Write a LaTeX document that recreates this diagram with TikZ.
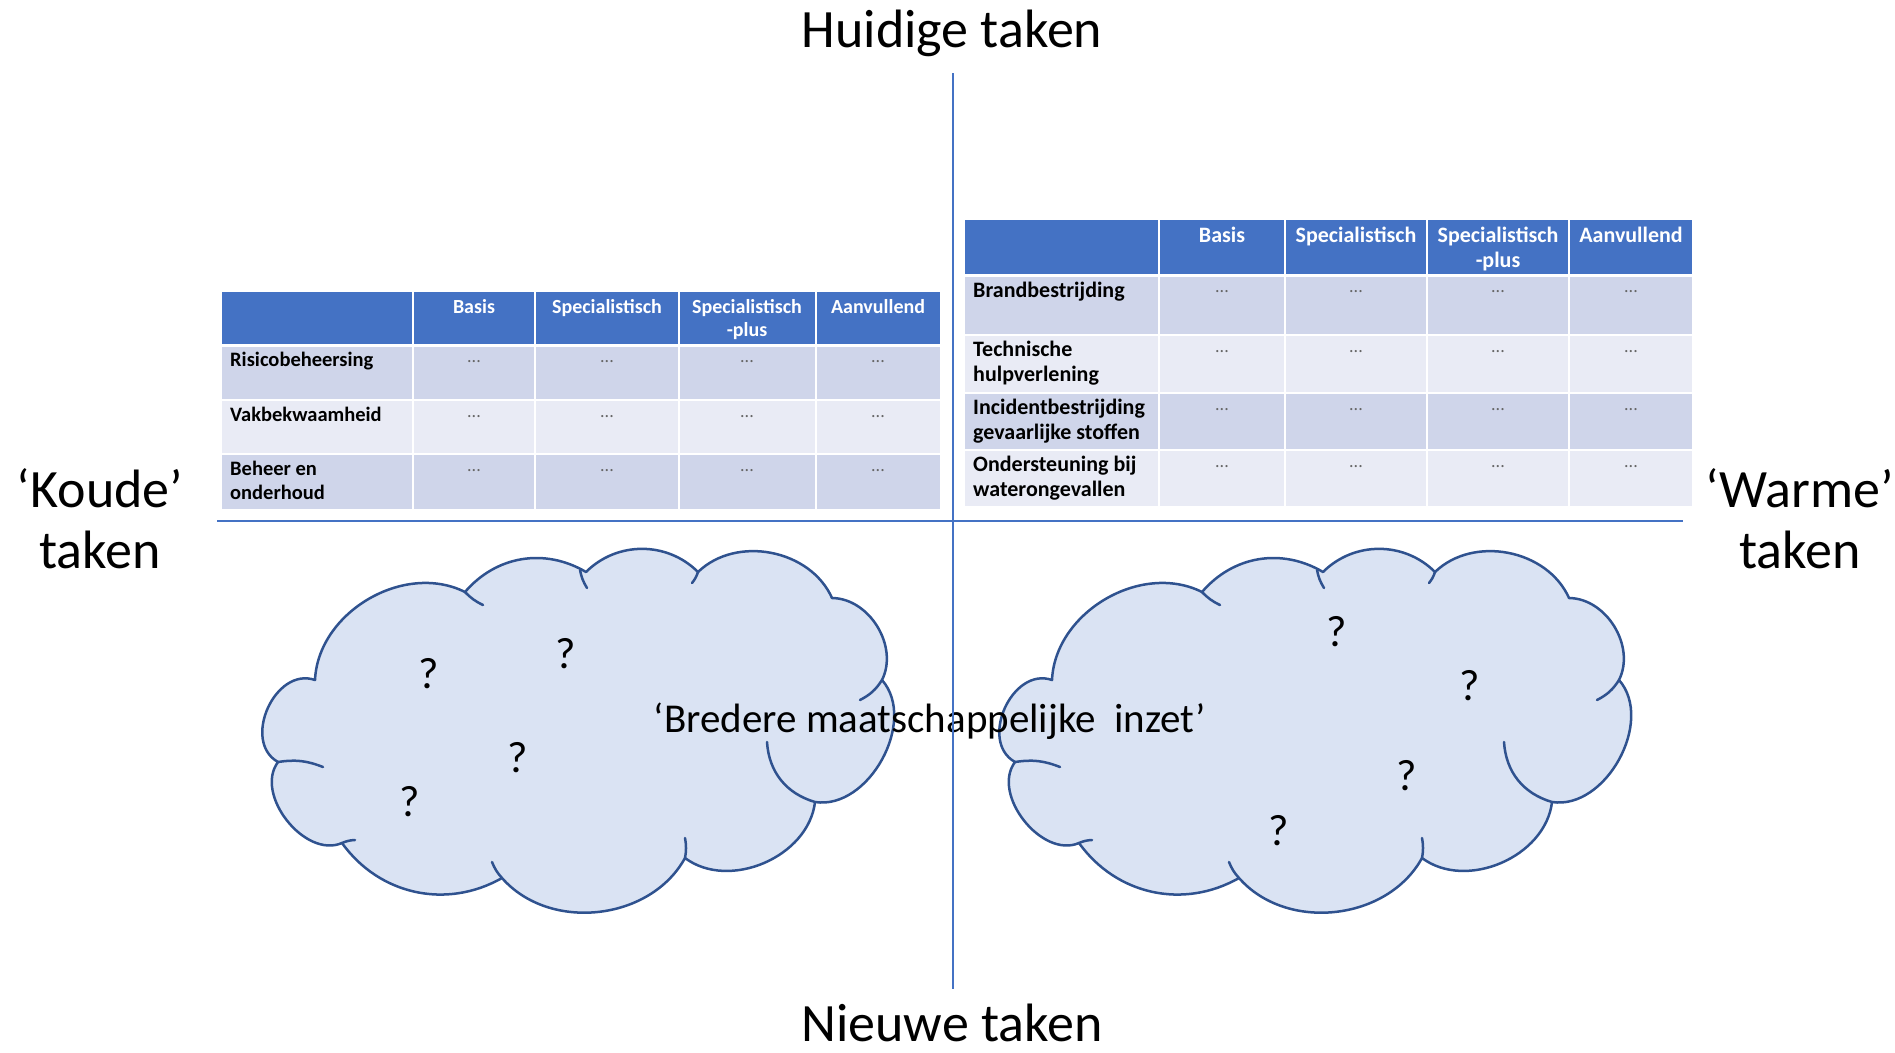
\documentclass[tikz,border=0pt]{standalone}
\usepackage{fontspec}
\setmainfont{Carlito}
\definecolor{kopblauw}{HTML}{4472C4}
\definecolor{rijdonker}{HTML}{CFD5EA}
\definecolor{rijlicht}{HTML}{E9EBF5}
\definecolor{wolkvul}{HTML}{DAE3F3}
\definecolor{wolkrand}{HTML}{2F528F}
\tikzset{
	as/.style={draw=kopblauw, line width=2.5pt},
	groot/.style={font=\fontsize{54}{61}\selectfont, align=center, inner sep=0pt},
	kop/.style={font=\bfseries\fontsize{20}{23.5}\selectfont, text=white, align=center, anchor=north, inner sep=0pt},
	rij/.style={font=\bfseries\fontsize{20.5}{23.5}\selectfont, align=left, anchor=north west, inner sep=0pt},
	kopR/.style={kop, font=\bfseries\fontsize{22}{24.5}\selectfont},
	rijR/.style={rij, font=\bfseries\fontsize{22}{24.5}\selectfont},
	punt/.style={font=\fontsize{18}{18}\selectfont, text=black!60, inner sep=0pt},
	wolk/.style={draw=wolkrand, fill=wolkvul, line width=2.5pt, line join=round},
	staart/.style={draw=wolkrand, line width=2.5pt, line cap=round},
	vraag/.style={font=\fontsize{44}{50}\selectfont, inner sep=0pt},
}
\begin{document}
\begin{tikzpicture}[x=1pt,y=-1pt]
	\useasboundingbox (0,0) rectangle (1895,1052);
	% tabel koude taken
	\foreach \xa/\xb in {221/413,413/535,535/679,679/816,816/941}{
		\fill[kopblauw] (\xa+1,292) rectangle (\xb-1,344);
		\fill[rijdonker] (\xa+1,347) rectangle (\xb-1,399);
		\fill[rijlicht] (\xa+1,401) rectangle (\xb-1,453);
		\fill[rijdonker] (\xa+1,455) rectangle (\xb-1,509);
	}
	\node[kop] (Lbasis) at (474,299) {Basis};
	\node[kop] (Lspec) at (607,299) {Specialistisch};
	\node[kop] (Lplus) at (747,299) {Specialistisch\\-plus};
	\node[kop] (Laanv) at (878,299) {Aanvullend};
	\node[rij] (Lrisico) at (230,352) {Risicobeheersing};
	\node[rij] (Lvak) at (230,407) {Vakbekwaamheid};
	\node[rij] (Lbeheer) at (230,461) {Beheer en\\onderhoud};
	\foreach \x in {474,607,747,878}
		\foreach \y in {362,417,471}
			\node[punt] at (\x,\y) {...};
	% tabel warme taken
	\foreach \xa/\xb in {964/1159,1159/1285,1285/1427,1427/1569,1569/1693}{
		\fill[kopblauw] (\xa+1,220) rectangle (\xb-1,274);
		\fill[rijdonker] (\xa+1,277) rectangle (\xb-1,334);
		\fill[rijlicht] (\xa+1,336) rectangle (\xb-1,392);
		\fill[rijdonker] (\xa+1,394) rectangle (\xb-1,449);
		\fill[rijlicht] (\xa+1,451) rectangle (\xb-1,506);
	}
	\node[kopR] (Rbasis) at (1222,227) {Basis};
	\node[kopR] (Rspec) at (1356,227) {Specialistisch};
	\node[kopR] (Rplus) at (1498,227) {Specialistisch\\-plus};
	\node[kopR] (Raanv) at (1631,227) {Aanvullend};
	\node[rijR] (Rbrand) at (973,282) {Brandbestrijding};
	\node[rijR] (Rtech) at (973,341) {Technische\\hulpverlening};
	\node[rijR] (Rincid) at (973,399) {Incidentbestrijding\\gevaarlijke stoffen};
	\node[rijR] (Rwater) at (973,456) {Ondersteuning bij\\waterongevallen};
	\foreach \x in {1222,1356,1498,1631}
		\foreach \y in {292,352,410,467}
			\node[punt] at (\x,\y) {...};
	% wolken
	\foreach \dx in {0,737}{
		\begin{scope}[xshift=\dx pt]
			\draw[wolk] (315,680) to[bend left=57] (465,592) to[bend left=40] (586,572)
				to[bend left=45] (698,572) to[bend left=55] (832,598) to[bend left=58] (882,680)
				to[bend left=70] (815,802) to[bend left=60] (685,858) to[bend left=55] (502,878)
				to[bend left=42] (342,843) to[bend left=75] (278,762)
				to[bend left=85, looseness=1.2] (315,680) -- cycle;
			\draw[staart] (278,762) to[bend left=15] (323,767);
			\draw[staart] (465,592) to[bend right=10] (483,605);
			\draw[staart] (580,570) to[bend right=10] (587,588);
			\draw[staart] (698,572) to[bend left=10] (692,583);
			\draw[staart] (882,680) to[bend left=15] (860,700);
			\draw[staart] (815,802) to[bend left=35] (767,742);
			\draw[staart] (685,858) to[bend right=10] (685,838);
			\draw[staart] (502,878) to[bend left=10] (492,862);
			\draw[staart] (342,843) to[bend left=10] (355,840);
		\end{scope}
	}
	\node[font=\fontsize{41}{48}\selectfont] (breder) at (930,721) {‘Bredere maatschappelijke\ \ inzet’};
	\node[vraag] (v1) at (429,674) {?};
	\node[vraag] (v2) at (566,654) {?};
	\node[vraag] (v3) at (518,758) {?};
	\node[vraag] (v4) at (410,802) {?};
	\node[vraag] (v5) at (1337,632) {?};
	\node[vraag] (v6) at (1470,686) {?};
	\node[vraag] (v7) at (1407,776) {?};
	\node[vraag] (v8) at (1279,831) {?};
	% assen
	\coordinate (boven) at (953,73);
	\coordinate (onder) at (953,989);
	\coordinate (links) at (217,521);
	\coordinate (rechts) at (1683,521);
	\draw[as] (boven) -- (onder);
	\draw[as] (links) -- (rechts);
	\node[groot] (huidig) at (952,33) {Huidige taken};
	\node[groot] (nieuw) at (952,1023) {Nieuwe taken};
	\node[groot] (koud) at (100,519) {‘Koude’\\taken};
	\node[groot] (warm) at (1800,519) {‘Warme’\\taken};
\end{tikzpicture}
\end{document}
